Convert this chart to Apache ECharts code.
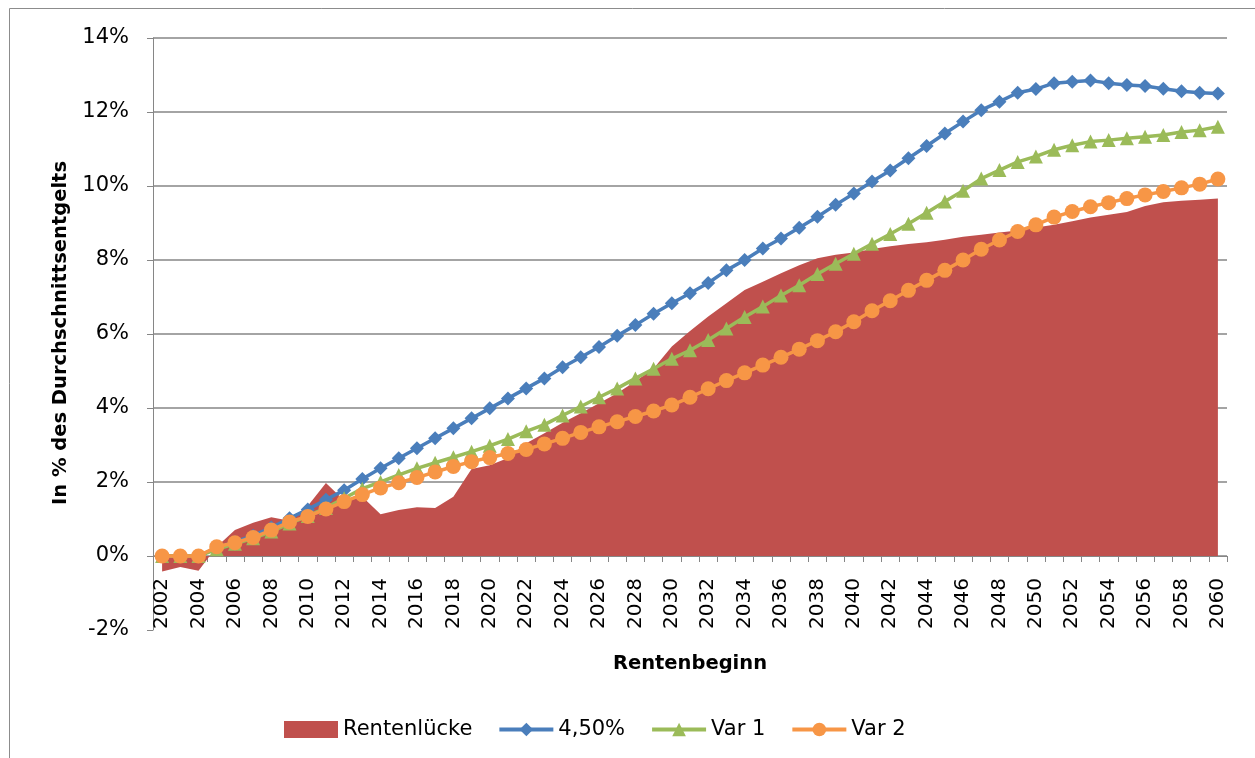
<!DOCTYPE html>
<html>
<head>
<meta charset="utf-8">
<script src="https://cdn.jsdelivr.net/npm/echarts@6/dist/echarts.min.js"></script>
<style>
html,body{margin:0;padding:0;background:#fff;}
#chart{width:1255px;height:758px;}
</style>
</head>
<body>
<div id="chart"></div>
<script>
var years = ['2002','2003','2004','2005','2006','2007','2008','2009','2010','2011',
  '2012','2013','2014','2015','2016','2017','2018','2019','2020','2021',
  '2022','2023','2024','2025','2026','2027','2028','2029','2030','2031',
  '2032','2033','2034','2035','2036','2037','2038','2039','2040','2041',
  '2042','2043','2044','2045','2046','2047','2048','2049','2050','2051',
  '2052','2053','2054','2055','2056','2057','2058','2059','2060'];

var rentenluecke = [-0.42,-0.3,-0.4,0.25,0.7,0.9,1.05,0.95,1.35,1.97,
  1.5,1.6,1.13,1.24,1.32,1.3,1.6,2.35,2.45,2.65,
  3.05,3.32,3.6,3.86,4.13,4.4,4.72,5.07,5.66,6.08,
  6.47,6.83,7.19,7.41,7.64,7.86,8.05,8.14,8.2,8.3,
  8.37,8.43,8.48,8.55,8.63,8.68,8.74,8.8,8.88,8.95,
  9.05,9.15,9.22,9.3,9.46,9.56,9.6,9.63,9.66];

var var450 = [0,0,0,0.22,0.38,0.55,0.77,1.02,1.26,1.52,
  1.78,2.08,2.37,2.64,2.91,3.18,3.45,3.72,3.99,4.26,
  4.53,4.8,5.1,5.37,5.65,5.95,6.24,6.55,6.83,7.1,
  7.38,7.72,8.0,8.31,8.58,8.87,9.17,9.49,9.8,10.12,
  10.42,10.75,11.08,11.42,11.74,12.05,12.28,12.52,12.62,12.78,
  12.82,12.85,12.78,12.73,12.7,12.63,12.56,12.52,12.5];

var var1 = [0,0,0,0.18,0.33,0.48,0.66,0.88,1.08,1.3,
  1.56,1.82,2.0,2.19,2.37,2.52,2.67,2.82,2.98,3.16,
  3.37,3.55,3.8,4.04,4.29,4.53,4.8,5.06,5.33,5.56,
  5.84,6.15,6.46,6.74,7.04,7.32,7.62,7.9,8.17,8.44,
  8.7,8.98,9.28,9.58,9.87,10.2,10.43,10.65,10.8,10.98,
  11.1,11.2,11.24,11.29,11.33,11.38,11.46,11.51,11.6];

var var2 = [0,0,0,0.25,0.36,0.5,0.7,0.92,1.07,1.27,
  1.47,1.66,1.84,1.98,2.12,2.27,2.42,2.55,2.66,2.77,
  2.88,3.03,3.18,3.34,3.49,3.63,3.77,3.92,4.08,4.29,
  4.52,4.74,4.95,5.16,5.37,5.59,5.82,6.06,6.33,6.63,
  6.9,7.18,7.45,7.72,8.0,8.29,8.54,8.77,8.95,9.16,
  9.31,9.44,9.55,9.66,9.76,9.85,9.95,10.05,10.19];

var yTitle = 'In % des Durchschnittsentgelts';
var xTitle = 'Rentenbeginn';

var chart = echarts.init(document.getElementById('chart'), null, {renderer: 'canvas'});
var axisGray = '#868686';
var labelFont = 'DejaVu Sans';

var option = {
  animation: false,
  backgroundColor: '#fff',
  grid: {left: 153, right: 28, top: 38, bottom: 128, containLabel: false},
  xAxis: {
    type: 'category',
    data: years,
    boundaryGap: true,
    axisLine: {show: true, onZero: true, lineStyle: {color: axisGray, width: 1}},
    axisTick: {show: true, interval: 0, length: 6, lineStyle: {color: axisGray}},
    axisLabel: {interval: 1, rotate: 90, margin: -52, fontFamily: labelFont, fontSize: 20, color: '#000'},
    splitLine: {show: false}
  },
  yAxis: {
    type: 'value',
    min: -2, max: 14, interval: 2,
    axisLine: {show: true, lineStyle: {color: axisGray, width: 1}},
    axisTick: {show: true, length: 6, lineStyle: {color: axisGray}},
    axisLabel: {formatter: '{value}%', margin: 24, fontFamily: labelFont, fontSize: 21, color: '#000'},
    splitLine: {show: true, lineStyle: {width: 1.5, color: ['rgba(0,0,0,0)', axisGray, axisGray, axisGray, axisGray, axisGray, axisGray, axisGray, axisGray]}}
  },
  legend: {
    left: 279, top: 714,
    itemWidth: 54, itemHeight: 17, itemGap: 25,
    lineStyle: {width: 4},
    textStyle: {fontFamily: labelFont, fontSize: 21, color: '#000'},
    data: [{name: 'Rentenlücke', icon: 'rect'}, '4,50%', 'Var 1', 'Var 2']
  },
  series: [
    {
      name: 'Rentenlücke', type: 'line', data: rentenluecke,
      symbol: 'none', showSymbol: false,
      lineStyle: {width: 0, color: '#C0504D'},
      itemStyle: {color: '#C0504D'},
      areaStyle: {color: '#C0504D', opacity: 1, origin: 0},
      z: 1
    },
    {
      name: '4,50%', type: 'line', data: var450,
      symbol: 'diamond', symbolSize: 14, showAllSymbol: true,
      lineStyle: {width: 3.5, color: '#4A7EBB'},
      itemStyle: {color: '#4A7EBB'},
      z: 2
    },
    {
      name: 'Var 1', type: 'line', data: var1,
      symbol: 'triangle', symbolSize: 14, showAllSymbol: true,
      lineStyle: {width: 3.5, color: '#9BBB59'},
      itemStyle: {color: '#9BBB59'},
      z: 3
    },
    {
      name: 'Var 2', type: 'line', data: var2,
      symbol: 'circle', symbolSize: 15, showAllSymbol: true,
      lineStyle: {width: 3.5, color: '#F79646'},
      itemStyle: {color: '#F79646'},
      z: 4
    }
  ],
  graphic: [
    {
      type: 'polyline', silent: true,
      shape: {points: [[9.5, 770], [9.5, 8.5], [1270, 8.5]]},
      style: {stroke: '#8c8c8c', fill: null, lineWidth: 1}
    },
    {
      type: 'text', silent: true,
      x: 61, y: 333, rotation: Math.PI / 2,
      style: {text: yTitle, font: 'bold 19.5px "DejaVu Sans"', fill: '#000',
        textAlign: 'center', textVerticalAlign: 'middle', align: 'center', verticalAlign: 'middle'}
    },
    {
      type: 'text', silent: true,
      x: 690, y: 664,
      style: {text: xTitle, font: 'bold 19.5px "DejaVu Sans"', fill: '#000',
        textAlign: 'center', textVerticalAlign: 'middle', align: 'center', verticalAlign: 'middle'}
    }
  ]
};
chart.setOption(option);
</script>
</body>
</html>
